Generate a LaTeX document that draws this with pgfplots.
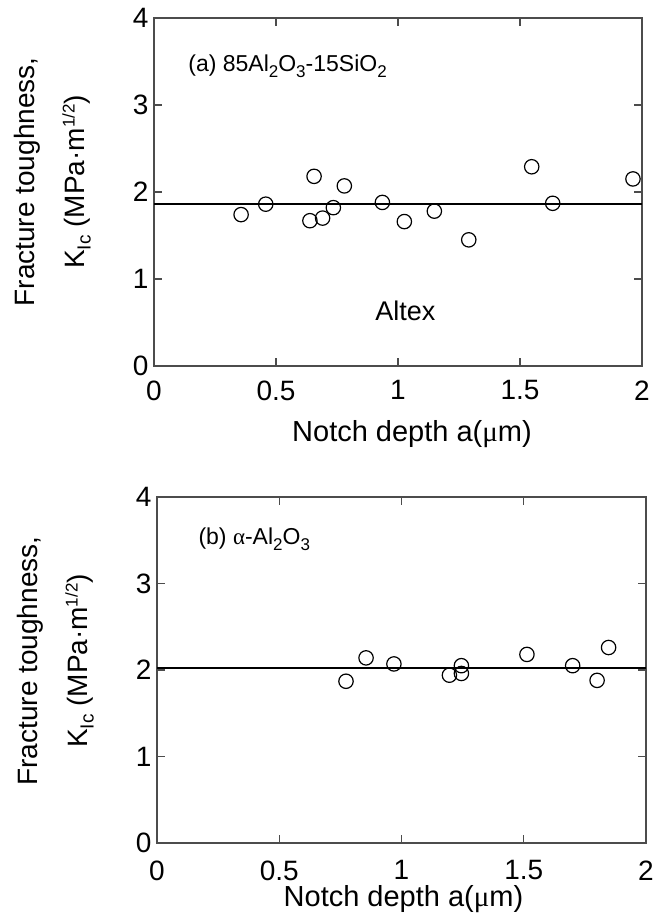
\documentclass[border=0pt]{standalone}
\usepackage{fontspec}
\setmainfont{Liberation Sans}
\newfontfamily\symfont{Liberation Serif}
\usepackage{pgfplots}
\pgfplotsset{compat=1.18}

\newcommand\subA[1]{\raisebox{-6bp}{\fontsize{17bp}{20bp}\selectfont #1}}
\newcommand\subY[1]{\raisebox{-6bp}{\fontsize{19bp}{22bp}\selectfont #1}}
\newcommand\supY[1]{\raisebox{10bp}{\fontsize{17bp}{20bp}\selectfont #1}}

\pgfplotsset{
 myax/.style={
  scale only axis,
  xmin=0, xmax=2, ymin=0, ymax=4,
  xtick={0,0.5,1,1.5,2}, ytick={0,1,2,3,4},
  tick align=inside, major tick length=8bp,
  axis line style={line width=1.1bp, black!70},
  every tick/.style={line width=1.1bp, black!70},
  /pgf/number format/assume math mode=true,
  xticklabel style={font=\fontsize{28bp}{32bp}\selectfont},
  yticklabel style={font=\fontsize{28bp}{32bp}\selectfont, xshift=-2bp},
  ylabel style={anchor=south, inner sep=0pt, align=center,
     font=\fontsize{28bp}{50bp}\selectfont},
  xlabel style={at={(axis description cs:0.5,0)}, anchor=base, inner sep=0pt,
     font=\fontsize{29bp}{32bp}\selectfont},
  xlabel={Notch depth a({\symfont μ}m)},
  ylabel={Fracture toughness,\\ K\subY{Ic} (MPa·m\supY{1/2})},
 },
 lineplot/.style={line width=2bp, black, no marks},
 ptplot/.style={only marks, mark=o, mark size=7.2bp, black, mark options={line width=1.2bp}},
}

\begin{document}
\begin{tikzpicture}
\path[use as bounding box] (0,0) rectangle (672bp,919bp);

% ---------- (a) ----------
\begin{axis}[myax,
  at={(154bp,553bp)}, anchor=south west,
  width=488bp, height=348bp,
  xticklabel style={yshift=-11bp},
  ylabel style={at={(axis description cs:-0.129,0.529)}},
  xlabel style={yshift=-76bp, xshift=14bp},
]
\addplot[lineplot] coordinates {(0,1.86) (2,1.86)};
\addplot[ptplot] coordinates {
 (0.357,1.74) (0.458,1.86) (0.656,2.18) (0.639,1.67) (0.691,1.70)
 (0.735,1.82) (0.780,2.07) (0.936,1.88) (1.026,1.66) (1.149,1.78)
 (1.290,1.45) (1.548,2.29) (1.634,1.87) (1.963,2.15)
};
\node[anchor=base west, inner sep=0pt, font=\fontsize{23bp}{26bp}\selectfont]
  at (axis cs:0.14,3.38) {(a) 85Al\subA{2}O\subA{3}-15SiO\subA{2}};
\node[anchor=base west, inner sep=0pt, font=\fontsize{27bp}{32bp}\selectfont]
  at (axis cs:0.906,0.52) {Altex};
\end{axis}

% ---------- (b) ----------
\begin{axis}[myax,
  at={(157bp,76bp)}, anchor=south west,
  width=489bp, height=346bp,
  xticklabel style={yshift=-14bp},
  ylabel style={at={(axis description cs:-0.129,0.526)}},
  xlabel style={yshift=-63bp, xshift=2bp},
]
\addplot[lineplot] coordinates {(0,2.02) (2,2.02)};
\addplot[ptplot] coordinates {
 (0.773,1.87) (0.855,2.14) (0.969,2.07) (1.196,1.94) (1.245,2.05)
 (1.245,1.96) (1.513,2.18) (1.700,2.05) (1.800,1.88) (1.847,2.26)
};
\node[anchor=base west, inner sep=0pt, font=\fontsize{23bp}{26bp}\selectfont]
  at (axis cs:0.169,3.45) {(b) {\symfont α}-Al\subA{2}O\subA{3}};
\end{axis}
\end{tikzpicture}
\end{document}
